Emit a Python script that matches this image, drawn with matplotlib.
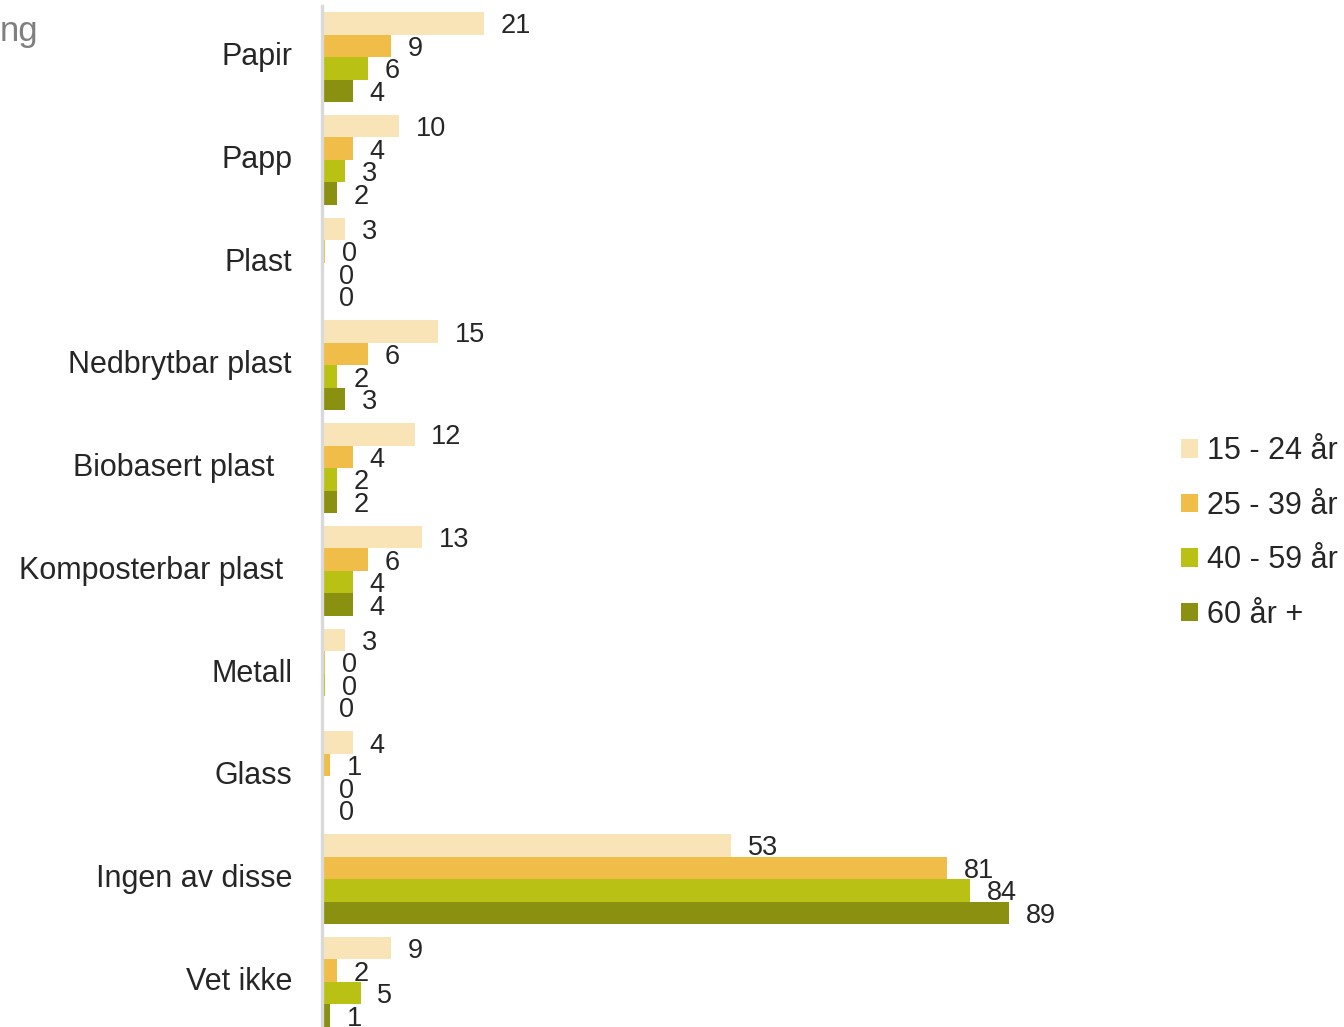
import numpy as np
import matplotlib
matplotlib.use("Agg")
import matplotlib.pyplot as plt
from matplotlib.transforms import ScaledTranslation, blended_transform_factory

plt.rcParams['font.family'] = ['Liberation Sans', 'DejaVu Sans']

# data
categories = ['Papir', 'Papp', 'Plast', 'Nedbrytbar plast', 'Biobasert plast',
              'Komposterbar plast', 'Metall', 'Glass', 'Ingen av disse', 'Vet ikke']
series = ['15 - 24 år', '25 - 39 år', '40 - 59 år', '60 år +']
v_15_24 = [21, 10, 3, 15, 12, 13, 3, 4, 53, 9]
v_25_39 = [9, 4, 0.4, 6, 4, 6, 0.4, 1, 81, 2]
v_40_59 = [6, 3, 0, 2, 2, 4, 0.4, 0, 84, 5]
v_60 = [4, 2, 0, 3, 2, 4, 0, 0, 89, 1]

colors = ['#F9E4B7', '#F0BD48', '#B8C114', '#8A9010']
text_col = '#262626'

fig = plt.figure(figsize=(13.44, 10.27), dpi=100)
ax = fig.add_axes([322 / 1344, -0.006, 772 / 1344, 1.0004])

y = np.arange(len(categories))
h = 0.219
for k, (vals, lab, col) in enumerate(zip([v_15_24, v_25_39, v_40_59, v_60], series, colors)):
    bars = ax.barh(y + (k - 1.5) * h, vals, height=h, color=col, label=lab, linewidth=0)
    texts = ax.bar_label(bars, labels=[f"{v:.0f}" for v in vals], padding=12,
                         fontsize=19.5, color=text_col)
    for t in texts:
        t.xyann = (12, -2.2)  # sit slightly below bar centre like the original

ax.set_xlim(0, 100)
ax.set_ylim(len(categories) - 0.5, -0.5)
ax.set_xticks([])
ax.set_yticks([])
for s in ['top', 'right', 'bottom']:
    ax.spines[s].set_visible(False)
ax.spines['left'].set_color('#D9D9D9')
ax.spines['left'].set_linewidth(2.4)

# category labels (a couple sit a bit further left in the original)
nudge = {'Biobasert plast': 18, 'Komposterbar plast': 9}
trans = blended_transform_factory(ax.transAxes, ax.transData)
for i, c in enumerate(categories):
    dx = -(30 + nudge.get(c, 0)) / 100
    ax.text(0, i, c, transform=trans + ScaledTranslation(dx, 0, fig.dpi_scale_trans),
            ha='right', va='center', fontsize=22, color=text_col)

# cut off title remnant
fig.text(0, 1 - 32 / 1027, 'ng', fontsize=25, color='#808080', ha='left', va='center')

fig.legend(loc='center left', bbox_to_anchor=(1166 / 1344, 1 - 533 / 1027),
           frameon=False, fontsize=22, handlelength=0.55, handleheight=0.55,
           handletextpad=0.3, labelspacing=0.8, borderpad=0, labelcolor=text_col)

fig.savefig('out.png', dpi=100)
